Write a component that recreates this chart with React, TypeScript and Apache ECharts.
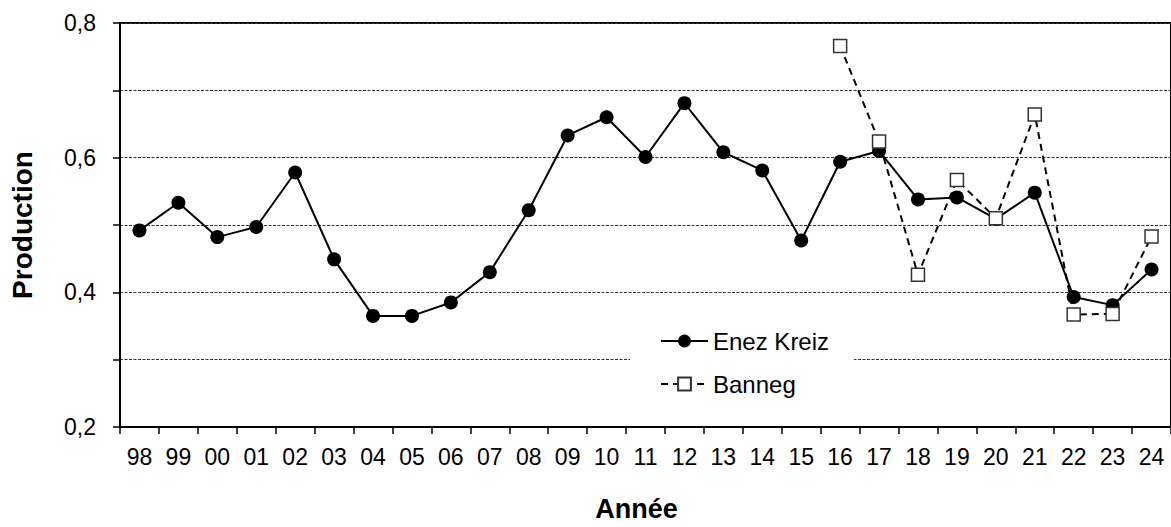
import React, { useEffect, useRef } from "react";
import * as echarts from "echarts";

const years = ["98","99","00","01","02","03","04","05","06","07","08","09","10","11","12","13","14","15","16","17","18","19","20","21","22","23","24"];
const enezKreiz = [0.492,0.533,0.482,0.497,0.578,0.449,0.365,0.365,0.385,0.430,0.522,0.633,0.660,0.601,0.681,0.608,0.581,0.477,0.594,0.610,0.538,0.541,0.509,0.548,0.393,0.381,0.434];
const banneg = [null,null,null,null,null,null,null,null,null,null,null,null,null,null,null,null,null,null,0.766,0.624,0.426,0.567,0.510,0.664,0.367,0.368,0.483];
const yMin = 0.2;
const yMax = 0.8;
const yStep = 0.1;

const FONT = "'Liberation Sans', Arial, sans-serif";

export default function App() {
  const ref = useRef<HTMLDivElement>(null);
  useEffect(() => {
    if (!ref.current) return;
    const chart = echarts.init(ref.current, null, { renderer: "svg" });
    chart.setOption({
      animation: false,
      backgroundColor: "#fff",
      textStyle: { fontFamily: FONT, color: "#000" },
      grid: {
        left: 116, right: -2, top: 23, bottom: 96,
        show: true, borderColor: "#000", borderWidth: 2, backgroundColor: "transparent",
      },
      legend: {
        orient: "vertical",
        left: 630,
        top: 317,
        backgroundColor: "#fff",
        padding: [12, 25, 12, 30],
        itemWidth: 47,
        itemHeight: 16,
        itemGap: 19,
        textStyle: { fontFamily: FONT, fontSize: 24, color: "#000" },
        data: ["Enez Kreiz", "Banneg"],
      },
      xAxis: {
        type: "category",
        data: years,
        boundaryGap: true,
        name: "Année",
        nameLocation: "middle",
        nameGap: 68,
        nameTextStyle: { fontFamily: FONT, fontSize: 27, fontWeight: "bold", color: "#000", padding: [0, 18, 0, 0] },
        axisLine: { lineStyle: { color: "#000", width: 2 } },
        axisTick: { show: true, length: 7, alignWithLabel: false, lineStyle: { color: "#000", width: 1.5 } },
        axisLabel: { interval: 0, margin: 18, fontFamily: FONT, fontSize: 23, color: "#000" },
        splitLine: { show: false },
      },
      yAxis: {
        type: "value",
        min: yMin,
        max: yMax,
        interval: yStep,
        name: "Production",
        nameLocation: "middle",
        nameGap: 84,
        nameTextStyle: { fontFamily: FONT, fontSize: 28, fontWeight: "bold", color: "#000" },
        axisLine: { show: true, lineStyle: { color: "#000", width: 2 } },
        axisTick: { show: true, length: 7, lineStyle: { color: "#000", width: 1.5 } },
        axisLabel: {
          margin: 24,
          fontFamily: FONT,
          fontSize: 23,
          color: "#000",
          formatter: (v: number) => (Math.round(v * 10) % 2 === 0 ? v.toFixed(1).replace(".", ",") : ""),
        },
        splitLine: { show: true, lineStyle: { color: "#333", width: 1, type: [3, 1.5] } },
      },
      series: [
        {
          name: "Enez Kreiz",
          type: "line",
          data: enezKreiz,
          symbol: "circle",
          symbolSize: 14,
          itemStyle: { color: "#000" },
          lineStyle: { color: "#000", width: 2 },
          z: 2,
        },
        {
          name: "Banneg",
          type: "line",
          data: banneg,
          symbol: "rect",
          symbolSize: 13,
          itemStyle: { color: "#fff", borderColor: "#333", borderWidth: 1.5 },
          lineStyle: { color: "#000", width: 2, type: [7, 5] },
          z: 3,
        },
      ],
    });
    return () => chart.dispose();
  }, []);
  return <div ref={ref} style={{ position: "fixed", left: 0, top: 0, width: 1171, height: 527 }} />;
}
